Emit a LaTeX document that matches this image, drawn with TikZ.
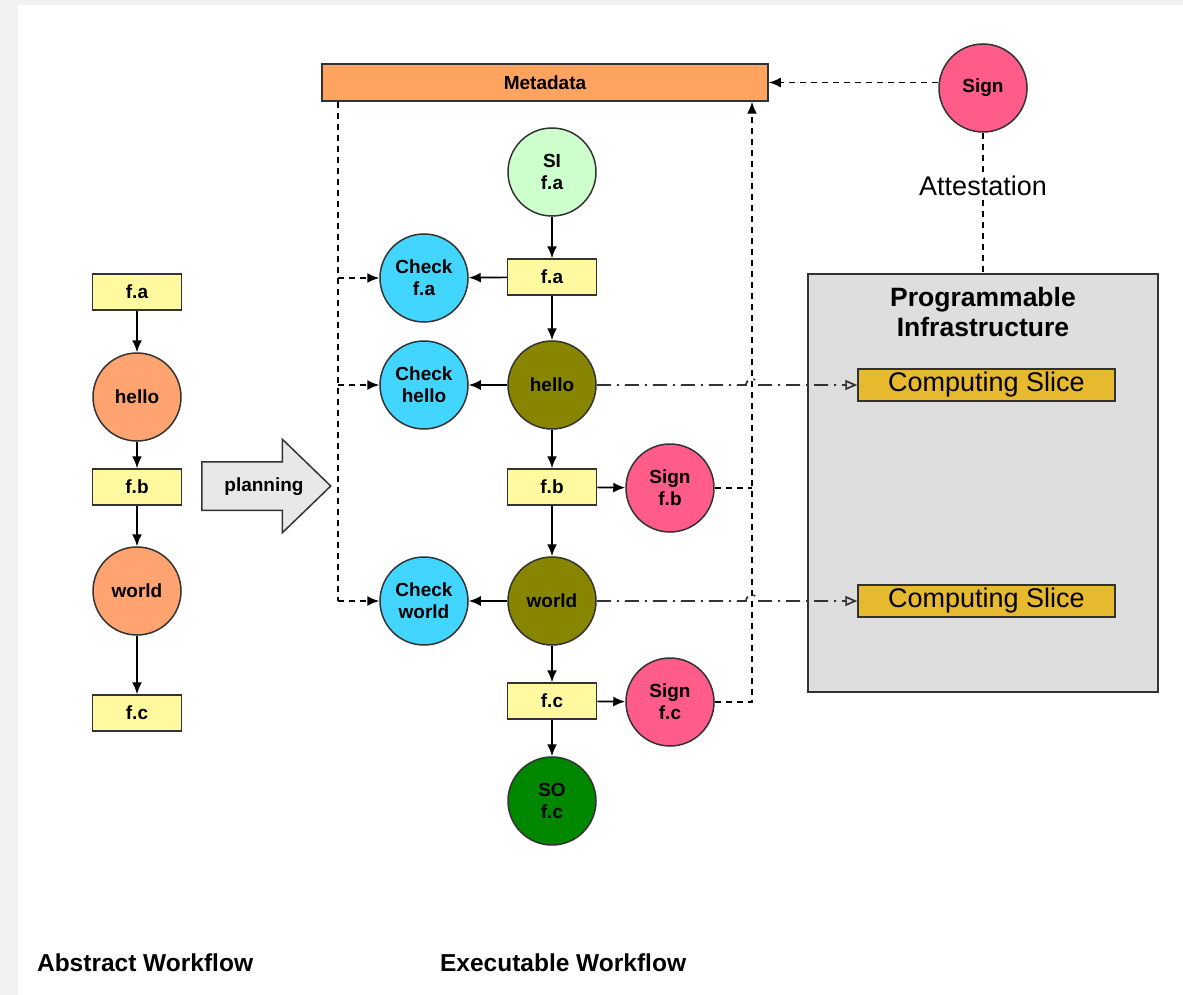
\documentclass[tikz,border=0pt]{standalone}
\usepackage{fontspec}
\setmainfont{Liberation Sans}
\usetikzlibrary{arrows.meta,shapes.arrows,calc}
\definecolor{pagegray}{RGB}{242,242,242}
\definecolor{strokegray}{RGB}{51,51,51}
\definecolor{metaorange}{RGB}{255,164,96}
\definecolor{signpink}{RGB}{255,92,138}
\definecolor{sigreen}{RGB}{204,255,204}
\definecolor{boxyellow}{RGB}{255,250,160}
\definecolor{checkcyan}{RGB}{66,214,255}
\definecolor{jobolive}{RGB}{136,134,0}
\definecolor{sogreen}{RGB}{0,135,0}
\definecolor{jobsalmon}{RGB}{255,163,112}
\definecolor{infragray}{RGB}{222,222,222}
\definecolor{slicegold}{RGB}{230,185,46}
\definecolor{planninggray}{RGB}{232,232,232}
\newcommand{\nodefont}{\fontsize{19}{22}\selectfont\bfseries}
\newcommand{\bigfont}{\fontsize{27}{30}\selectfont}
\newcommand{\labelfont}{\fontsize{24.5}{28}\selectfont\bfseries}
\tikzset{
  box/.style={draw=strokegray, line width=1.5pt, fill=boxyellow, minimum width=89pt, minimum height=36pt, inner sep=0pt, font=\nodefont},
  job/.style={circle, draw=strokegray, line width=1.5pt, minimum size=88pt, inner sep=0pt, align=center, font=\nodefont},
  flow/.style={->, line width=1.7pt},
  metaline/.style={line width=1.7pt, dash pattern=on 6pt off 5pt},
  dashdot/.style={line width=1.7pt, dash pattern=on 14pt off 6pt on 2pt off 6pt, draw=strokegray},
  slice/.style={draw=strokegray, line width=1.5pt, fill=slicegold, minimum width=257pt, minimum height=32pt, inner sep=0pt, font=\bigfont}
}
\begin{document}
\begin{tikzpicture}[x=1pt, y=-1pt, >={Latex[length=12pt,width=10pt]}, line width=1.5pt]
% Hintergrund
\fill[pagegray] (0,0) rectangle (1183,995);
\fill[white] (18,5) rectangle (1183,995);
% Abstrakter Workflow
\node[box] (afa) at (137,292) {f.a};
\node[job, fill=jobsalmon] (ahello) at (137,397) {hello};
\node[box] (afb) at (137,487) {f.b};
\node[job, fill=jobsalmon] (aworld) at (137,591) {world};
\node[box] (afc) at (137,713) {f.c};
\foreach \a/\b in {afa/ahello, ahello/afb, afb/aworld, aworld/afc}
  \draw[flow] (\a) -- (\b);
% Planungspfeil
\node[single arrow, draw=strokegray, fill=planninggray, minimum height=129pt, single arrow head extend=22.5pt,
      single arrow tip angle=88, text height=13pt, text depth=4pt, inner ysep=15pt, anchor=west] (planning) at (201,486) {};
\node[font=\nodefont] (planlabel) at (264,487) {planning};
% Ausfuehrbarer Workflow
\node[draw=strokegray, fill=metaorange, minimum width=446pt, minimum height=37pt, inner sep=0pt, font=\nodefont] (meta) at (545,82.5) {Metadata};
\node[job, fill=sigreen] (si) at (552,172) {SI\\f.a};
\node[box] (fa) at (552,277) {f.a};
\node[job, fill=checkcyan] (chkfa) at (424,278) {Check\\f.a};
\node[job, fill=jobolive] (hello) at (552,385) {hello};
\node[job, fill=checkcyan] (chkhello) at (424,385) {Check\\hello};
\node[box] (fb) at (552,487) {f.b};
\node[job, fill=signpink] (signfb) at (670,488) {Sign\\f.b};
\node[job, fill=jobolive] (world) at (552,601) {world};
\node[job, fill=checkcyan] (chkworld) at (424,601) {Check\\world};
\node[box] (fc) at (552,701) {f.c};
\node[job, fill=signpink] (signfc) at (670,702) {Sign\\f.c};
\node[job, fill=sogreen] (so) at (552,801) {SO\\f.c};
\foreach \a/\b in {si/fa, fa/chkfa, fa/hello, hello/chkhello, hello/fb, fb/signfb, fb/world,
                   world/chkworld, world/fc, fc/signfc, fc/so}
  \draw[flow] (\a) -- (\b);
% Metadaten-Leitungen
\coordinate (lrail) at (338,101);
\coordinate (rrail) at (752,101);
\draw[metaline] (meta.south -| lrail) -- (lrail |- chkworld);
\foreach \n in {chkfa, chkhello, chkworld}
  \draw[metaline, ->] (lrail |- \n) -- (\n);
\draw[metaline] (signfb.east) -- (rrail |- signfb);
\draw[metaline, ->] (signfc.east) -- (rrail |- signfc) -- (meta.south -| rrail);
% Infrastruktur
\node[job, fill=signpink] (sign) at (983,88) {Sign};
\draw[metaline, ->] (meta.east -| sign.west) -- (meta.east);
\node[font=\bigfont] (att) at (983,186) {Attestation};
\node[draw=strokegray, fill=infragray, minimum width=350pt, minimum height=418pt, inner sep=0pt] (infra) at (983,483) {};
\draw[metaline] (sign) -- (att);
\draw[metaline] (att) -- (infra);
\node[font=\fontsize{26.5}{30}\selectfont\bfseries, align=center] (infratitle) at (983,312) {Programmable\\Infrastructure};
\node[slice] (cs1) at (986.5,385) {Computing Slice};
\node[slice] (cs2) at (986.5,601) {Computing Slice};
\draw[dashdot, -{Triangle[open,length=12pt,width=10pt]}] (hello.east) -- ($(rrail |- hello)+(-6,0)$)
  arc[start angle=180, end angle=360, radius=6] -- (cs1.west);
\draw[dashdot, -{Triangle[open,length=12pt,width=10pt]}] (world.east) -- ($(rrail |- world)+(-6,0)$)
  arc[start angle=180, end angle=360, radius=6] -- (cs2.west);
% Beschriftung
\node[anchor=west, font=\labelfont] (abslabel) at (33,963) {Abstract Workflow};
\node[anchor=west, font=\labelfont] (exelabel) at (436,963) {Executable Workflow};
\end{tikzpicture}
\end{document}
